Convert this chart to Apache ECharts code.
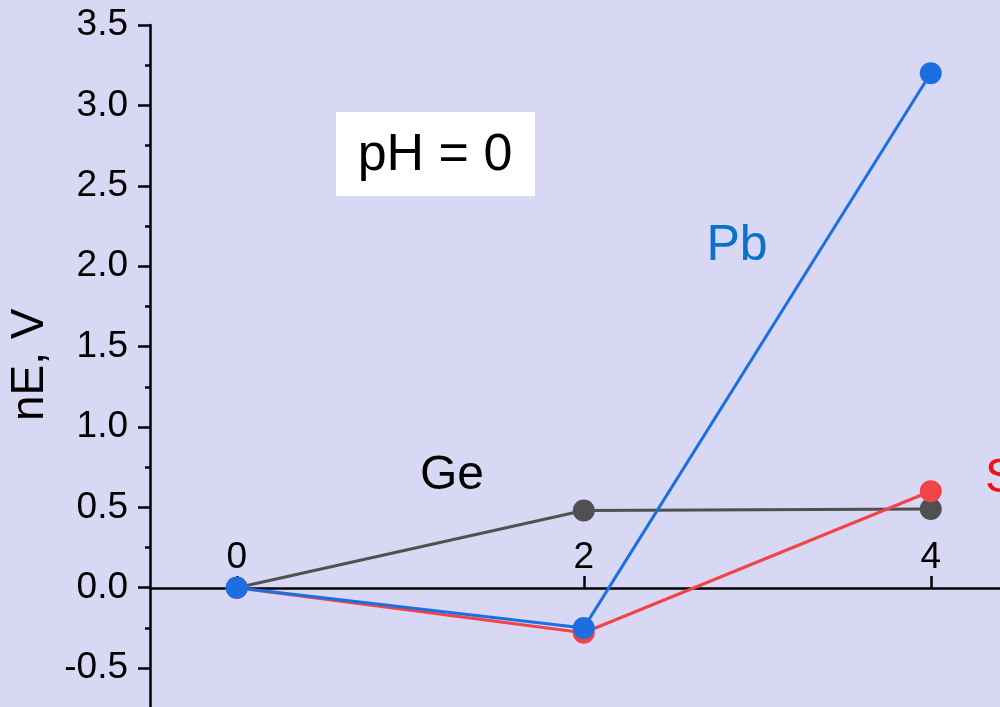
<!DOCTYPE html>
<html>
<head>
<meta charset="utf-8">
<script src="https://cdn.jsdelivr.net/npm/echarts@6/dist/echarts.min.js"></script>
<style>
  html, body { margin: 0; padding: 0; background: #d8d8f4; }
  #chart { width: 1000px; height: 707px; }
</style>
</head>
<body>
<div id="chart"></div>
<script>
// oxidation states n on x, nE in volts on y
const xValues = [0, 2, 4];
const geValues = [0, 0.48, 0.49];
const snValues = [0, -0.28, 0.6];
const pbValues = [0, -0.25, 3.2];
const xTickValues = [0, 2, 4];

const font = 'Liberation Sans, Arial, sans-serif';

function pairs(ys) {
    return xValues.map((x, i) => [x, ys[i]]);
}

function line(name, color, ys) {
    return {
        name: name,
        type: 'line',
        data: pairs(ys),
        symbol: 'circle',
        symbolSize: 22,
        lineStyle: { color: color, width: 3 },
        itemStyle: { color: color },
        emphasis: { disabled: true },
        animation: false
    };
}

let myChart = echarts.init(document.getElementById('chart'));
let option = {
    backgroundColor: '#d8d8f4',
    // plot runs past the canvas edges, the picture is a crop
    grid: { left: 150, right: -17.5, top: 25, bottom: -41.5, outerBoundsMode: 'none' },
    xAxis: {
        type: 'value',
        min: -0.5,
        max: 4.5,
        position: 'bottom',
        offset: -160.5,
        axisLine: { onZero: false, lineStyle: { color: '#000', width: 2.5 } },
        axisTick: { inside: true, length: 12, customValues: xTickValues, lineStyle: { color: '#000', width: 2.5 } },
        axisLabel: { inside: true, margin: 12, customValues: xTickValues, color: '#000', fontSize: 37, fontFamily: font },
        splitLine: { show: false }
    },
    yAxis: {
        type: 'value',
        min: -1,
        max: 3.5,
        interval: 0.5,
        name: 'nE, V',
        nameLocation: 'middle',
        nameGap: 97,
        nameTextStyle: { color: '#000', fontSize: 46, fontFamily: font, padding: [0, 0, 0, 44] },
        axisLine: { onZero: false, lineStyle: { color: '#000', width: 2.5 } },
        axisTick: { length: 12, lineStyle: { color: '#000', width: 2.5 } },
        minorTick: { show: true, splitNumber: 2, length: 5, lineStyle: { color: '#000', width: 2.5 } },
        axisLabel: {
            margin: 22,
            color: '#000',
            fontSize: 37,
            fontFamily: font,
            formatter: v => v.toFixed(1)
        },
        splitLine: { show: false }
    },
    series: [
        line('Ge', '#505050', geValues),
        line('Sn', '#f04448', snValues),
        line('Pb', '#1c6fe0', pbValues)
    ],
    graphic: [
        { type: 'rect', shape: { x: 336, y: 112, width: 199, height: 84 }, style: { fill: '#ffffff' } },
        { type: 'text', x: 435, y: 156, style: { text: 'pH = 0', fill: '#000', font: '52px ' + font, align: 'center', verticalAlign: 'middle' } },
        { type: 'text', x: 737, y: 246, style: { text: 'Pb', fill: '#0a72c8', font: '50px ' + font, align: 'center', verticalAlign: 'middle' } },
        { type: 'text', x: 452, y: 476, style: { text: 'Ge', fill: '#000', font: '48px ' + font, align: 'center', verticalAlign: 'middle' } },
        { type: 'text', x: 985, y: 479, style: { text: 'Sn', fill: '#f01010', font: '48px ' + font, align: 'left', verticalAlign: 'middle' } }
    ]
};
myChart.setOption(option, true);
</script>
</body>
</html>
